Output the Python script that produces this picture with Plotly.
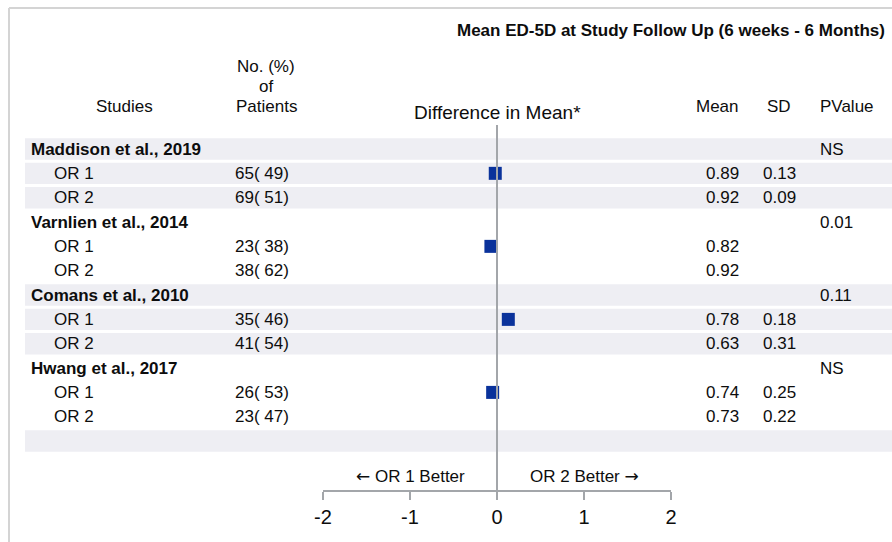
import plotly.graph_objects as go

# ---------------- data ----------------
title = "Mean ED-5D at Study Follow Up (6 weeks - 6 Months)"
studies = ["Maddison et al., 2019", "Varnlien et al., 2014", "Comans et al., 2010", "Hwang et al., 2017"]
arms = ["OR 1", "OR 2"]
n_patients = [[65, 69], [23, 38], [35, 41], [26, 23]]
pct_patients = [[49, 51], [38, 62], [46, 54], [53, 47]]
means = [[0.89, 0.92], [0.82, 0.92], [0.78, 0.63], [0.74, 0.73]]
sds = [[0.13, 0.09], [None, None], [0.18, 0.31], [0.25, 0.22]]
pvalues = ["NS", "0.01", "0.11", "NS"]
diff_mean = [-0.02, -0.07, 0.13, -0.05]   # plotted on the OR 1 row of each study
x_ticks = [-2, -1, 0, 1, 2]

# ---------------- geometry helpers ----------------
W, H = 892, 542
M_T, M_B = 125, 52
PLOT_H = H - M_T - M_B


def px(x):
    return x / W


def py(y):
    return (H - M_B - y) / PLOT_H


FONT = "Arial, 'Liberation Sans', Helvetica, sans-serif"
TXT = "#0d0d0d"
BAND = "#EEEEF3"
LINE = "#A3A6AA"
ARROW_L = '<span style="font-family:DejaVu Sans">\u2190</span>'
ARROW_R = '<span style="font-family:DejaVu Sans">\u2192</span>'

# build rows
rows = []  # (kind, study_idx, arm_idx)
for s in range(len(studies)):
    rows.append(("study", s, None))
    for a in range(len(arms)):
        rows.append(("arm", s, a))
rows.append(("empty", None, None))
n_rows = len(rows)

annotations = []
shapes = []


def ann(text, x, y, xanchor="left", size=17, bold=False, yref="y", xref="paper"):
    annotations.append(dict(
        text=f"<b>{text}</b>" if bold else text,
        x=x, y=y, xref=xref, yref=yref, xanchor=xanchor, yanchor="middle",
        showarrow=False, font=dict(family=FONT, size=size, color=TXT)))


marker_x, marker_y = [], []
for i, (kind, s, a) in enumerate(rows):
    shaded = (kind == "empty") or (s is not None and s % 2 == 0)
    if shaded:
        shapes.append(dict(type="rect", xref="paper", yref="y", x0=px(25), x1=1.0,
                           y0=i - 0.44, y1=i + 0.44, fillcolor=BAND, line_width=0, layer="below"))
    if kind == "study":
        ann(studies[s], px(29), i, bold=True)
        ann(pvalues[s], px(818), i)
    elif kind == "arm":
        ann(arms[a], px(52), i)
        ann(f"{n_patients[s][a]}( {pct_patients[s][a]})", px(233), i)
        ann(f"{means[s][a]:.2f}", px(741), i, xanchor="right")
        if sds[s][a] is not None:
            ann(f"{sds[s][a]:.2f}", px(779), i, xanchor="center")
        if a == 0:
            marker_x.append(diff_mean[s])
            marker_y.append(i)

# headers
ann(title, px(671), py(31), xanchor="center", bold=True, yref="paper")
ann("Studies", px(125), py(106), xanchor="center", yref="paper")
ann("No. (%)", px(266), py(66), xanchor="center", yref="paper")
ann("of", px(266), py(86), xanchor="center", yref="paper")
ann("Patients", px(266), py(106), xanchor="center", yref="paper")
ann("Difference in Mean*", 0, py(112), xanchor="center", yref="paper", xref="x", size=19)
ann("Mean", px(741), py(106), xanchor="right", yref="paper")
ann("SD", px(779), py(106), xanchor="center", yref="paper")
ann("PValue", px(818), py(106), xanchor="left", yref="paper")
ann(ARROW_L + " OR 1 Better", -1, py(476), xanchor="center", yref="paper", xref="x")
ann("OR 2 Better " + ARROW_R, 1, py(476), xanchor="center", yref="paper", xref="x")

# zero reference line
shapes.append(dict(type="line", xref="x", yref="paper", x0=0, x1=0, y0=0, y1=1,
                   line=dict(color=LINE, width=2), layer="above"))
# outer frame (top and left)
shapes.append(dict(type="line", xref="paper", yref="paper", x0=px(9), x1=1.0, y0=py(8), y1=py(8),
                   line=dict(color="#D4D4D4", width=2)))
shapes.append(dict(type="line", xref="paper", yref="paper", x0=px(9), x1=px(9), y0=py(8), y1=py(H + 5),
                   line=dict(color="#D4D4D4", width=2)))

fig = go.Figure()
fig.add_trace(go.Scatter(
    x=marker_x, y=marker_y, mode="markers",
    marker=dict(symbol="square", size=13, color="#0A329B", line_width=0),
    showlegend=False, hoverinfo="x"))

fig.update_layout(
    width=W, height=H,
    margin=dict(l=0, r=0, t=M_T, b=M_B, pad=0, autoexpand=False),
    paper_bgcolor="white", plot_bgcolor="white",
    annotations=annotations, shapes=shapes,
    xaxis=dict(range=[-2, 2], domain=[px(323), px(671)], tickvals=x_ticks,
               ticktext=[str(t) for t in x_ticks],
               showgrid=False, zeroline=False, showline=True, linecolor=LINE, linewidth=2,
               ticks="outside", ticklen=8, tickwidth=2, tickcolor=LINE,
               tickfont=dict(family=FONT, size=20, color=TXT), fixedrange=True),
    yaxis=dict(range=[n_rows + 1.01, -0.986], visible=False, showgrid=False,
               zeroline=False, fixedrange=True),
)

fig.write_html("out.html", config={"displayModeBar": False},
               post_script="document.body.style.margin='0';document.body.style.overflow='hidden';")
